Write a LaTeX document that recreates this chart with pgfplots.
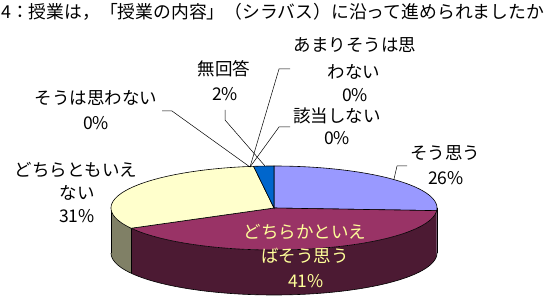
\documentclass[border=0pt]{standalone}
\usepackage{pgfplots}
\pgfplotsset{compat=1.18}
\usepgfplotslibrary{fillbetween}
\usepackage{fontspec}
\setmainfont{Noto Sans CJK JP}
\definecolor{cA}{HTML}{9999FF}
\definecolor{cAs}{HTML}{4D4D80}
\definecolor{cB}{HTML}{993366}
\definecolor{cBs}{HTML}{4C1A33}
\definecolor{cC}{HTML}{FFFFCC}
\definecolor{cCs}{HTML}{808066}
\definecolor{cG}{HTML}{0066CC}
\definecolor{lblB}{HTML}{FFFF99}
\begin{document}
\begin{tikzpicture}
% shares (percent): そう思う, どちらかといえばそう思う, どちらともいえない, あまりそうは思わない, そうは思わない, 該当しない, 無回答
\def\pA{26}\def\pB{41}\def\pC{31}\def\pD{0}\def\pE{0}\def\pF{0}\def\pG{2}
\pgfmathsetmacro\aA{90}
\pgfmathsetmacro\aB{\aA-3.6*\pA}
\pgfmathsetmacro\aC{\aB-3.6*\pB}
\pgfmathsetmacro\aD{\aC-3.6*\pC}
\pgfmathsetmacro\aG{\aD-3.6*(\pD+\pE+\pF)}
\pgfmathsetmacro\aH{\aG-3.6*\pG}
\def\cx{274}\def\cy{89}\def\rx{163}\def\ry{42}\def\dz{45}
\pgfmathsetmacro\by{\cy-\dz}
\begin{axis}[scale only axis, width=553pt, height=297pt,
  xmin=0, xmax=553, ymin=0, ymax=297, hide axis, clip=false]
% ---- sides ----
\addplot[draw=none, name path=tA, domain=\aB:0, samples=10, variable=\t] ({\cx+\rx*cos(\t)},{\cy+\ry*sin(\t)});
\addplot[draw=none, name path=bA, domain=\aB:0, samples=10, variable=\t] ({\cx+\rx*cos(\t)},{\by+\ry*sin(\t)});
\addplot[cAs] fill between[of=tA and bA];
\addplot[draw=none, name path=tB, domain=\aC:\aB, samples=80, variable=\t] ({\cx+\rx*cos(\t)},{\cy+\ry*sin(\t)});
\addplot[draw=none, name path=bB, domain=\aC:\aB, samples=80, variable=\t] ({\cx+\rx*cos(\t)},{\by+\ry*sin(\t)});
\addplot[cBs] fill between[of=tB and bB];
\addplot[draw=none, name path=tC, domain=-180:\aC, samples=20, variable=\t] ({\cx+\rx*cos(\t)},{\cy+\ry*sin(\t)});
\addplot[draw=none, name path=bC, domain=-180:\aC, samples=20, variable=\t] ({\cx+\rx*cos(\t)},{\by+\ry*sin(\t)});
\addplot[cCs] fill between[of=tC and bC];
% side outlines
\addplot[black, line width=0.6pt, domain=-180:0, samples=100, variable=\t] ({\cx+\rx*cos(\t)},{\by+\ry*sin(\t)});
\pgfmathsetmacro\xl{\cx-\rx}
\pgfmathsetmacro\xr{\cx+\rx}
\pgfmathsetmacro\xc{\cx+\rx*cos(\aC)}
\pgfmathsetmacro\ytc{\cy+\ry*sin(\aC)}
\pgfmathsetmacro\ybc{\by+\ry*sin(\aC)}
\addplot[black, line width=0.6pt] coordinates {(\xl,\cy) (\xl,\by)};
\addplot[black, line width=0.6pt] coordinates {(\xr,\cy) (\xr,\by)};
\addplot[black, line width=0.6pt] coordinates {(\xc,\ytc) (\xc,\ybc)};
% ---- top slices ----
\addplot[fill=cA, draw=black, line width=0.6pt, domain=\aB:\aA, samples=60, variable=\t] ({\cx+\rx*cos(\t)},{\cy+\ry*sin(\t)}) -- (axis cs:\cx,\cy) -- cycle;
\addplot[fill=cB, draw=black, line width=0.6pt, domain=\aC:\aB, samples=80, variable=\t] ({\cx+\rx*cos(\t)},{\cy+\ry*sin(\t)}) -- (axis cs:\cx,\cy) -- cycle;
\addplot[fill=cC, draw=black, line width=0.6pt, domain=\aD:\aC, samples=80, variable=\t] ({\cx+\rx*cos(\t)},{\cy+\ry*sin(\t)}) -- (axis cs:\cx,\cy) -- cycle;
\addplot[fill=cG, draw=black, line width=0.6pt, domain=\aH:\aG, samples=10, variable=\t] ({\cx+\rx*cos(\t)},{\cy+\ry*sin(\t)}) -- (axis cs:\cx,\cy) -- cycle;
% ---- leader lines ----
\addplot[black, line width=0.5pt] coordinates {(162,186) (172,186) (250,130)};
\addplot[black, line width=0.5pt] coordinates {(225,187) (225,177) (265,131)};
\addplot[black, line width=0.5pt] coordinates {(290,228) (279,228) (250,130)};
\addplot[black, line width=0.5pt] coordinates {(290,170) (279,170) (250,130)};
\addplot[black, line width=0.5pt] coordinates {(407,131) (397,131) (394,118)};
% ---- labels ----
\tikzset{lbl/.style={font=\fontsize{17.5}{20}\selectfont, inner sep=0pt, anchor=center}}
\node[lbl, anchor=west, font=\fontsize{17.8}{20}\selectfont] at (axis cs:1,285) {4：授業は，「授業の内容」（シラバス）に沿って進められましたか};
\node[lbl] at (axis cs:355,252) {あまりそうは思};
\node[lbl] at (axis cs:354,225) {わない};
\node[lbl] at (axis cs:355,202) {0\%};
\node[lbl] at (axis cs:224,228) {無回答};
\node[lbl] at (axis cs:225,203) {2\%};
\node[lbl] at (axis cs:337,181) {該当しない};
\node[lbl] at (axis cs:337,159) {0\%};
\node[lbl] at (axis cs:96,199) {そうは思わない};
\node[lbl] at (axis cs:96,174) {0\%};
\node[lbl] at (axis cs:76,127) {どちらともいえ};
\node[lbl] at (axis cs:77,104) {ない};
\node[lbl] at (axis cs:77,81) {31\%};
\node[lbl] at (axis cs:445,144) {そう思う};
\node[lbl] at (axis cs:446,119) {26\%};
\node[lbl, text=lblB] at (axis cs:305,65) {どちらかといえ};
\node[lbl, text=lblB] at (axis cs:305,41) {ばそう思う};
\node[lbl, text=lblB] at (axis cs:306,16) {41\%};
\end{axis}
\pgfresetboundingbox
\path (0,0) rectangle (553pt,297pt);
\end{tikzpicture}
\end{document}
